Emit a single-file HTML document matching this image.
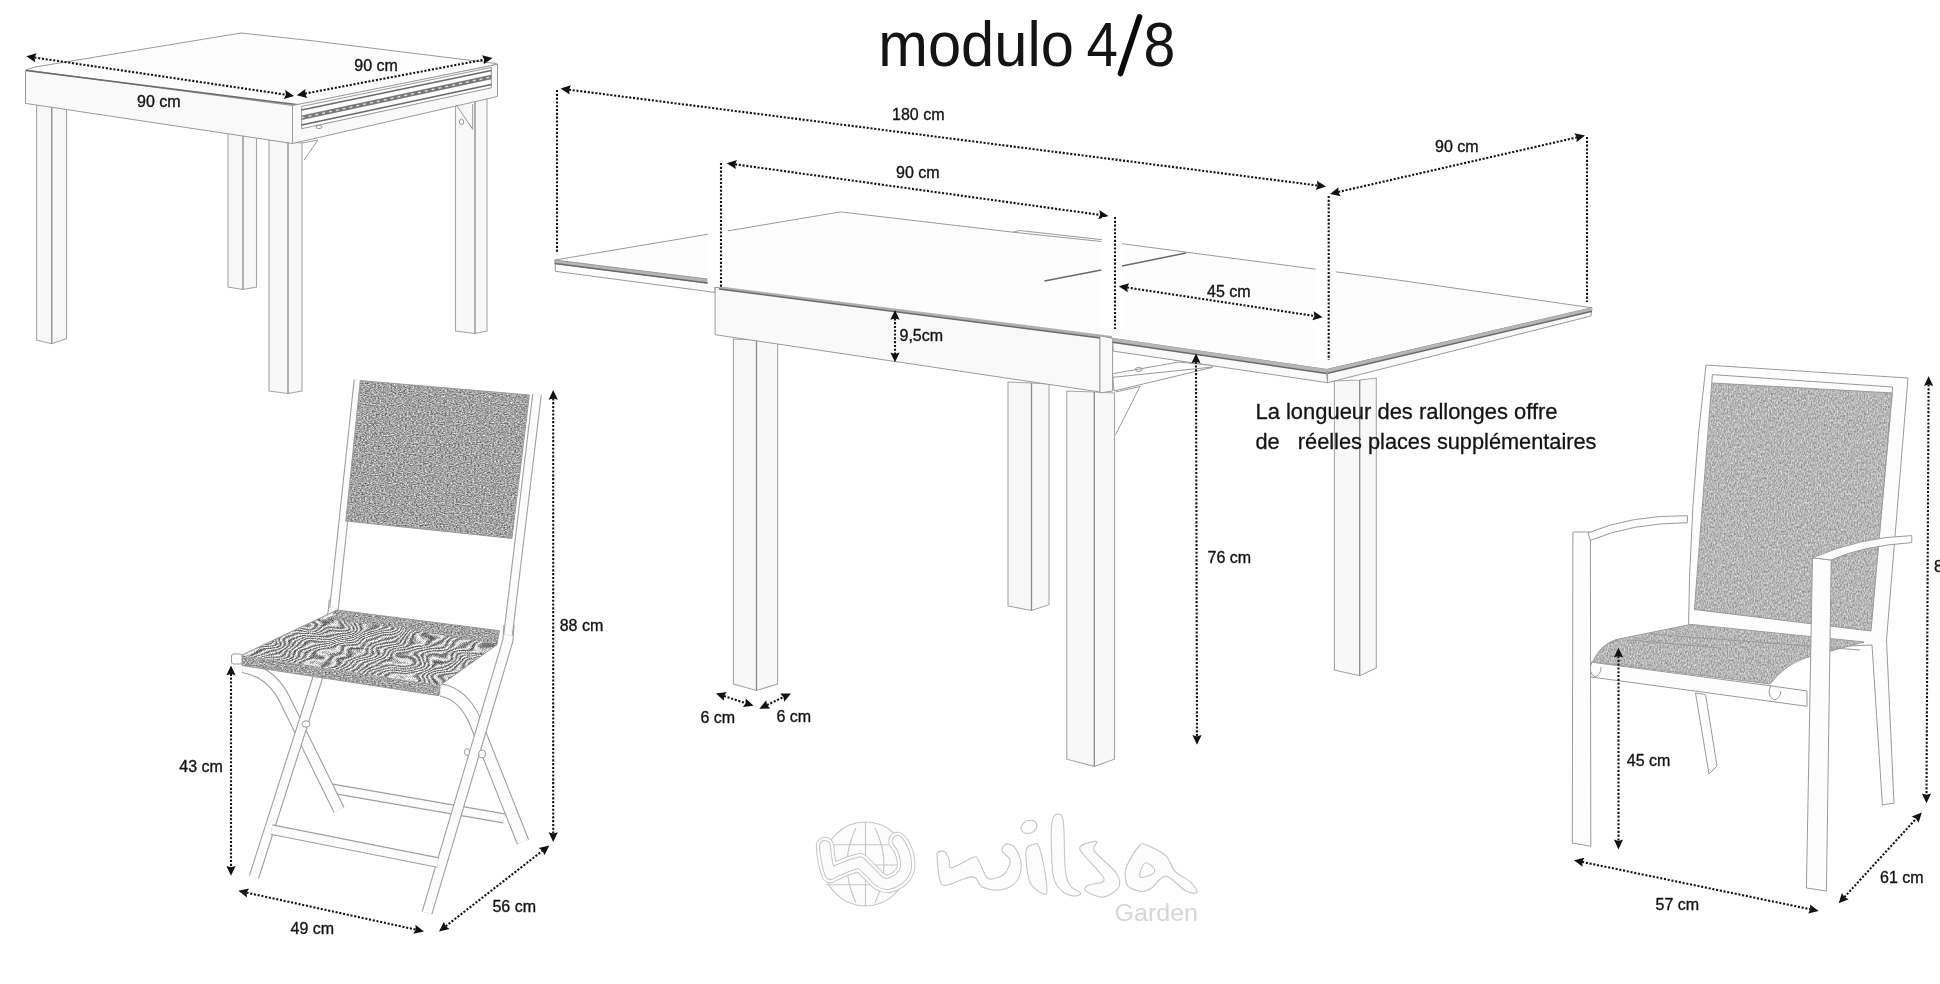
<!DOCTYPE html>
<html><head><meta charset="utf-8">
<style>
html,body{margin:0;padding:0;background:#fff;width:1940px;height:984px;overflow:hidden}
svg{position:absolute;left:0;top:0;filter:grayscale(1) blur(0.45px)}
.ln{fill:none;stroke:#9a9a9a;stroke-width:1}
.ln2{fill:none;stroke:#8a8a8a;stroke-width:1.2}
.lg{fill:#f9f9f9;stroke:#9a9a9a;stroke-width:1}
.lgl{fill:#f8f8f8;stroke:#a6a6a6;stroke-width:1.1}
.lm{fill:none;stroke:#8a8a8a;stroke-width:1.3}
.lw{fill:#fdfdfd;stroke:#9a9a9a;stroke-width:1}
.dk{fill:none;stroke:#6a6a6a;stroke-width:1.5}
.dot{stroke:#151515;stroke-width:2.1;stroke-dasharray:2.1 1.7;fill:none}
text{font-family:"Liberation Sans",sans-serif;fill:#141414}
.lbl{font-size:16px;stroke:#141414;stroke-width:0.35}
</style></head><body>
<svg width="1940" height="984" viewBox="0 0 1940 984">
<defs>
<filter id="nz1" x="0" y="0" width="100%" height="100%" color-interpolation-filters="sRGB">
<feTurbulence type="fractalNoise" baseFrequency="0.55 0.9" numOctaves="2" seed="4"/>
<feColorMatrix type="matrix" values="0.9 0 0 0 0.19  0.9 0 0 0 0.19  0.9 0 0 0 0.19  0 0 0 0 1"/>
</filter>
<filter id="nz2" x="0" y="0" width="100%" height="100%" color-interpolation-filters="sRGB">
<feTurbulence type="fractalNoise" baseFrequency="0.7 0.45" numOctaves="2" seed="9"/>
<feColorMatrix type="matrix" values="0.55 0 0 0 0.44  0.55 0 0 0 0.44  0.55 0 0 0 0.44  0 0 0 0 1"/>
</filter>
<linearGradient id="gx" x1="0" y1="0" x2="1" y2="0.7"><stop offset="0" stop-color="#000"/><stop offset="1" stop-color="#fff"/></linearGradient>
<filter id="moire" x="0" y="0" width="100%" height="100%" color-interpolation-filters="sRGB">
<feTurbulence type="fractalNoise" baseFrequency="0.025 0.05" numOctaves="2" seed="7" result="t"/>
<feColorMatrix in="t" type="matrix" values="1 0 0 0 0  1 0 0 0 0  1 0 0 0 0  0 0 0 0 1" result="tg"/>
<feComposite in="SourceGraphic" in2="tg" operator="arithmetic" k1="0" k2="1" k3="0.22" k4="-0.11" result="c"/>
<feComponentTransfer in="c">
<feFuncR type="table" tableValues="0.35 1 0.35 1 0.35 1 0.35 1 0.35 1 0.35 1 0.35 1 0.35 1 0.35 1 0.35 1 0.35 1 0.35 1 0.35 1 0.35 1 0.35 1 0.35 1 0.35 1 0.35 1 0.35 1 0.35 1 0.35 1 0.35 1 0.35 1 0.35 1 0.35 1 0.35 1 0.35 1 0.35 1 0.35 1 0.35 1 0.35 1 0.35 1 0.35 1 0.35 1 0.35 1 0.35 1 0.35 1 0.35 1 0.35 1 0.35 1 0.35"/><feFuncG type="table" tableValues="0.35 1 0.35 1 0.35 1 0.35 1 0.35 1 0.35 1 0.35 1 0.35 1 0.35 1 0.35 1 0.35 1 0.35 1 0.35 1 0.35 1 0.35 1 0.35 1 0.35 1 0.35 1 0.35 1 0.35 1 0.35 1 0.35 1 0.35 1 0.35 1 0.35 1 0.35 1 0.35 1 0.35 1 0.35 1 0.35 1 0.35 1 0.35 1 0.35 1 0.35 1 0.35 1 0.35 1 0.35 1 0.35 1 0.35 1 0.35 1 0.35"/><feFuncB type="table" tableValues="0.35 1 0.35 1 0.35 1 0.35 1 0.35 1 0.35 1 0.35 1 0.35 1 0.35 1 0.35 1 0.35 1 0.35 1 0.35 1 0.35 1 0.35 1 0.35 1 0.35 1 0.35 1 0.35 1 0.35 1 0.35 1 0.35 1 0.35 1 0.35 1 0.35 1 0.35 1 0.35 1 0.35 1 0.35 1 0.35 1 0.35 1 0.35 1 0.35 1 0.35 1 0.35 1 0.35 1 0.35 1 0.35 1 0.35 1 0.35 1 0.35"/>
<feFuncA type="linear" slope="0" intercept="1"/>
</feComponentTransfer>
</filter>
<clipPath id="cpSeat1b"><polygon points="337,610 499.4,630.7 497,644.7 470,640 400,628 332,620"/></clipPath>
<clipPath id="cpBack1"><polygon points="360.3,380.6 529.4,395 511.9,538.4 345.8,521"/></clipPath>
<clipPath id="cpSeat1"><polygon points="337,610 499.4,630.7 497,644.7 440.2,685.3 242,655"/></clipPath>
<clipPath id="cpSeat1f"><polygon points="242,655 440.2,685.3 439,695.7 242,665.5"/></clipPath>
<clipPath id="cpBack2"><polygon points="1712,383 1893,393 1871,631 1694.4,609.5"/></clipPath>
<clipPath id="cpSeat2"><path d="M1592.7,661.8 Q1600,645 1616,639.6 L1691,624.4 L1864,642 L1805,658 Q1785,665 1770,684 Z"/></clipPath>
</defs>

<g style="fill:#0a0a0a;font-size:63.5px"><text x="878.3" y="65.5" textLength="195.5" lengthAdjust="spacingAndGlyphs">modulo</text><text transform="translate(1086.5,65.5) scale(0.89,1)">4</text><text transform="translate(1143.5,65.5) scale(0.9,1)">8</text></g><line x1="1120.5" y1="73.5" x2="1139.5" y2="16.8" stroke="#0a0a0a" stroke-width="5.6" stroke-linecap="round"/>
<polygon points="36.6,103.0 51.8,104.0 66.5,105.0 66.5,338.6 51.8,343.7 36.6,340.0" class="lgl"/>
<polyline points="51.8,104.0 51.8,343.7" class="lm"/>
<polygon points="228.0,125.0 243.0,126.0 256.5,127.0 256.5,287.0 243.0,289.5 228.0,287.0" class="lgl"/>
<polyline points="243.0,126.0 243.0,289.5" class="lm"/>
<polygon points="455.5,100.0 475.0,100.0 487.0,99.0 487.0,331.0 475.0,333.5 455.5,331.0" class="lgl"/>
<polyline points="475.0,100.0 475.0,333.5" class="lm"/>
<polygon points="269.0,140.0 288.0,142.0 302.0,143.0 302.0,391.0 288.0,393.5 269.0,391.0" class="lgl"/>
<polyline points="288.0,142.0 288.0,393.5" class="lm"/>
<polygon points="26.0,70.0 35.0,67.0 241.0,33.0 310.0,40.5 496.0,63.5 497.5,64.3 300.0,105.0 293.0,105.5" class="lw"/>
<polygon points="25.5,70.2 292.5,105.5 292.5,143.5 25.5,103.4" class="lg"/>
<polyline points="26.0,70.5 300.0,105.0" class="dk"/>
<polygon points="292.5,105.5 497.5,64.3 497.5,96.5 292.5,143.5" class="lg"/>
<polygon points="301.6,106.4 491.3,67.4 491.3,87.8 301.6,128.7" class="lw"/>
<polygon points="301.6,115.6 491.3,74.7 491.3,79.2 301.6,120.1" fill="#777"/>
<line x1="301.6" y1="117.8" x2="491.3" y2="76.9" stroke="#ddd" stroke-width="1.4" stroke-dasharray="3 4"/>
<polyline points="301.6,110.0 491.3,70.5" class="dk"/>
<polyline points="301.6,125.0 491.3,84.5" class="dk"/>
<polyline points="302.0,143.0 318.0,140.0 304.0,160.0" class="ln"/>
<polyline points="456.0,104.5 472.7,129.3 472.7,104.0" class="ln"/>
<ellipse cx="461.5" cy="121.9" rx="2.2" ry="2.6" class="ln"/>
<ellipse cx="319" cy="127" rx="3" ry="1.6" class="ln"/>
<line x1="34.4" y1="57.5" x2="286.0" y2="94.7" class="dot"/>
<path d="M26.2,56.3 L36.6,53.2 L34.5,57.5 L35.2,62.3 Z" fill="#111"/>
<path d="M294.2,95.9 L283.8,99.0 L285.9,94.7 L285.2,89.9 Z" fill="#111"/>
<line x1="304.9" y1="93.6" x2="484.3" y2="59.6" class="dot"/>
<path d="M296.7,95.2 L305.5,88.9 L305.0,93.6 L307.2,97.9 Z" fill="#111"/>
<path d="M492.5,58.0 L483.7,64.3 L484.2,59.6 L482.0,55.3 Z" fill="#111"/>
<text x="137" y="106.5" class="lbl">90 cm</text>
<text x="354.3" y="71" class="lbl">90 cm</text>
<polygon points="1008.0,382.0 1031.5,383.0 1049.0,384.0 1049.0,604.7 1031.5,610.5 1008.0,606.0" class="lgl"/>
<polyline points="1031.5,383.0 1031.5,610.5" class="lm"/>
<polygon points="733.4,339.0 756.5,340.0 777.6,341.0 777.6,684.0 756.5,690.5 733.4,684.0" class="lgl"/>
<polyline points="756.5,340.0 756.5,690.5" class="lm"/>
<polygon points="1066.8,391.0 1094.3,392.0 1114.5,393.0 1114.5,759.2 1094.3,766.4 1066.8,759.2" class="lgl"/>
<polyline points="1094.3,392.0 1094.3,766.4" class="lm"/>
<polygon points="1334.4,381.0 1359.7,380.0 1376.3,378.0 1376.3,668.0 1359.7,675.7 1334.4,670.0" class="lgl"/>
<polyline points="1359.7,380.0 1359.7,675.7" class="lm"/>
<polygon points="554.8,260.0 840.6,211.9 1013.0,232.2 1019.7,230.5 1101.3,239.6 1122.0,243.7 1394.0,279.5 1592.0,307.8 1326.7,369.5 1112.0,338.7 715.0,287.3 707.4,283.1 554.8,263.6" class="lw"/>
<polyline points="1013.0,232.2 1101.3,241.5" class="ln"/>
<polygon points="555.3,263.6 707.4,283.1 715.0,287.3 715.0,292.4 555.3,271.3" class="lw"/>
<polygon points="554.8,260 707.4,279 707.4,283.1 554.8,263.6" fill="#b6b6b6"/>
<polyline points="554.8,263.6 707.4,283.1" class="dk"/>
<polyline points="554.8,260.0 707.4,279.0" class="ln"/>
<polygon points="715.1,287.3 1100.0,335.8 1100.0,392.0 715.1,334.7" class="lg"/>
<polygon points="719,286.2 1112,336 1112,339.5 719,289" fill="#b0b0b0"/>
<polyline points="719.0,289.0 1112.0,339.5" class="dk"/>
<polygon points="1100.0,335.8 1112.6,338.3 1112.6,391.0 1100.0,393.0" class="lg"/>
<polygon points="1112.6,338.3 1326.7,369.5 1327.6,382.7 1113.2,351.1" class="lg"/>
<polygon points="1112.6,338.3 1326.7,369.5 1326.7,373.5 1112.6,342.3" fill="#b6b6b6"/>
<polyline points="1112.6,342.3 1326.7,373.5" class="dk"/>
<polygon points="1326.7,369.5 1592.0,307.8 1591.0,316.0 1327.6,382.7" class="lg"/>
<polygon points="1326.7,369.5 1592,307.8 1592,311.3 1326.7,373.5" fill="#b6b6b6"/>
<polyline points="1326.7,373.5 1592.0,311.3" class="dk"/>
<polyline points="1327.6,371.0 1327.6,382.7" class="ln"/>
<polygon points="1112.6,373.7 1179.0,362.0 1212.0,365.5 1212.0,367.5 1114.0,391.0" class="lw"/>
<polyline points="1113.0,377.3 1213.0,367.0" class="ln"/>
<ellipse cx="1138.8" cy="369.4" rx="3.5" ry="2" class="ln"/>
<polyline points="1115.6,392.0 1140.0,386.5 1115.6,434.6" class="ln"/>
<polyline points="1044.4,280.9 1101.3,270.1" class="dk"/>
<polyline points="1122.0,266.0 1186.0,253.0" class="dk"/>
<line x1="557" y1="90" x2="557" y2="253" class="dot"/>
<line x1="568.9" y1="89.7" x2="1317.7" y2="185.5" class="dot"/>
<path d="M560.6,88.6 L570.9,85.3 L569.0,89.7 L569.7,94.4 Z" fill="#111"/>
<path d="M1326.0,186.6 L1315.7,189.9 L1317.6,185.5 L1316.9,180.8 Z" fill="#111"/>
<text x="892" y="119.5" class="lbl">180 cm</text>
<rect x="708" y="163" width="20" height="124" fill="#fff"/><line x1="721" y1="163" x2="721" y2="287" class="dot"/>
<line x1="735.0" y1="164.3" x2="1100.1" y2="214.9" class="dot"/>
<path d="M726.7,163.2 L737.0,160.0 L735.0,164.4 L735.8,169.1 Z" fill="#111"/>
<path d="M1108.4,216.0 L1098.1,219.2 L1100.1,214.8 L1099.3,210.1 Z" fill="#111"/>
<text x="896" y="178" class="lbl">90 cm</text>
<rect x="1102" y="217" width="20" height="112" fill="#fff"/><line x1="1115" y1="217" x2="1115" y2="329" class="dot"/>
<rect x="1315.7" y="196" width="20" height="164" fill="#fff"/><line x1="1328.7" y1="196" x2="1328.7" y2="360" class="dot"/>
<line x1="1587" y1="137" x2="1587" y2="302" class="dot"/>
<line x1="1338.1" y1="192.0" x2="1576.9" y2="137.4" class="dot"/>
<path d="M1330.0,193.9 L1338.5,187.2 L1338.2,192.0 L1340.6,196.2 Z" fill="#111"/>
<path d="M1585.0,135.5 L1576.5,142.2 L1576.8,137.4 L1574.4,133.2 Z" fill="#111"/>
<text x="1435" y="151.5" class="lbl">90 cm</text>
<line x1="1127.0" y1="287.5" x2="1314.5" y2="316.0" class="dot"/>
<path d="M1118.8,286.3 L1129.2,283.2 L1127.1,287.6 L1127.8,292.3 Z" fill="#111"/>
<path d="M1322.7,317.2 L1312.3,320.3 L1314.4,315.9 L1313.7,311.2 Z" fill="#111"/>
<text x="1207" y="297" class="lbl">45 cm</text>
<line x1="895.0" y1="318.3" x2="895.0" y2="354.0" class="dot"/>
<path d="M895.0,310.0 L899.6,319.8 L895.0,318.4 L890.4,319.8 Z" fill="#111"/>
<path d="M895.0,362.3 L890.4,352.5 L895.0,353.9 L899.6,352.5 Z" fill="#111"/>
<text x="899.5" y="341" class="lbl">9,5cm</text>
<line x1="1196.0" y1="361.7" x2="1197.0" y2="736.5" class="dot"/>
<path d="M1196.0,353.4 L1200.6,363.2 L1196.0,361.8 L1191.4,363.2 Z" fill="#111"/>
<path d="M1197.0,744.8 L1192.4,735.0 L1197.0,736.4 L1201.6,735.0 Z" fill="#111"/>
<text x="1207.5" y="562.5" class="lbl">76 cm</text>
<line x1="723.9" y1="696.0" x2="745.7" y2="703.2" class="dot"/>
<path d="M716.0,693.4 L726.7,692.1 L724.0,696.0 L723.9,700.8 Z" fill="#111"/>
<path d="M753.6,705.8 L742.9,707.1 L745.6,703.2 L745.7,698.4 Z" fill="#111"/>
<line x1="766.9" y1="705.1" x2="783.5" y2="697.0" class="dot"/>
<path d="M759.4,708.7 L766.2,700.3 L767.0,705.0 L770.2,708.6 Z" fill="#111"/>
<path d="M791.0,693.4 L784.2,701.8 L783.4,697.1 L780.2,693.5 Z" fill="#111"/>
<text x="700.5" y="723" class="lbl">6 cm</text>
<text x="776.5" y="721.7" class="lbl">6 cm</text>
<text x="1255.5" y="419.2" style="font-size:22px;stroke:#141414;stroke-width:0.3" textLength="302" lengthAdjust="spacingAndGlyphs">La longueur des rallonges offre</text>
<text x="1255.5" y="448.8" style="font-size:22px;stroke:#141414;stroke-width:0.3" xml:space="preserve" textLength="341" lengthAdjust="spacingAndGlyphs">de   réelles places supplémentaires</text>
<path d="M332,788.6 L504,818.4" fill="none" stroke="#a0a0a0" stroke-width="10.2" stroke-linejoin="round"/><path d="M332,788.6 L504,818.4" fill="none" stroke="#fcfcfc" stroke-width="8" stroke-linejoin="round"/>
<path d="M243,667 Q272,672 286,702 L339,810" fill="none" stroke="#a0a0a0" stroke-width="12.2" stroke-linejoin="round"/><path d="M243,667 Q272,672 286,702 L339,810" fill="none" stroke="#fcfcfc" stroke-width="10" stroke-linejoin="round"/>
<path d="M441,690 Q463,694 475,721 L523,842" fill="none" stroke="#a0a0a0" stroke-width="13.2" stroke-linejoin="round"/><path d="M441,690 Q463,694 475,721 L523,842" fill="none" stroke="#fcfcfc" stroke-width="11" stroke-linejoin="round"/>
<path d="M334,600 L333,612 L317,680 L254,877" fill="none" stroke="#a0a0a0" stroke-width="10.7" stroke-linejoin="round"/><path d="M334,600 L333,612 L317,680 L254,877" fill="none" stroke="#fcfcfc" stroke-width="8.5" stroke-linejoin="round"/>
<path d="M509,625 L508,640 L427,913" fill="none" stroke="#a0a0a0" stroke-width="11.2" stroke-linejoin="round"/><path d="M509,625 L508,640 L427,913" fill="none" stroke="#fcfcfc" stroke-width="9" stroke-linejoin="round"/>
<ellipse cx="306" cy="724" rx="4" ry="3.2" class="lw"/>
<ellipse cx="482" cy="754" rx="3.5" ry="4" class="lw"/>
<ellipse cx="467" cy="752" rx="2.5" ry="3.5" class="lw"/>
<path d="M271.5,829.6 L438,862.6" fill="none" stroke="#a0a0a0" stroke-width="10.7" stroke-linejoin="round"/><path d="M271.5,829.6 L438,862.6" fill="none" stroke="#fcfcfc" stroke-width="8.5" stroke-linejoin="round"/>
<path d="M358.5,380 L334,608" fill="none" stroke="#a0a0a0" stroke-width="9.7" stroke-linejoin="round"/><path d="M358.5,380 L334,608" fill="none" stroke="#fcfcfc" stroke-width="7.5" stroke-linejoin="round"/>
<path d="M537,394.5 L508,635" fill="none" stroke="#a0a0a0" stroke-width="9.7" stroke-linejoin="round"/><path d="M537,394.5 L508,635" fill="none" stroke="#fcfcfc" stroke-width="7.5" stroke-linejoin="round"/>
<g clip-path="url(#cpBack1)"><rect x="340" y="375" width="195" height="170" filter="url(#nz1)"/></g>
<polygon points="360.3,380.6 529.4,395.0 511.9,538.4 345.8,521.0" class="ln"/>
<g clip-path="url(#cpSeat1)"><rect x="240" y="605" width="262" height="92" fill="url(#gx)" filter="url(#moire)"/></g><g clip-path="url(#cpSeat1b)"><rect x="325" y="605" width="178" height="45" filter="url(#nz1)"/></g>
<g clip-path="url(#cpSeat1f)"><rect x="240" y="650" width="202" height="48" filter="url(#nz1)"/></g>
<polygon points="337.0,610.0 499.4,630.7 497.0,644.7 440.2,685.3 439.0,695.7 242.0,665.5 242.0,655.0" class="ln"/>
<rect x="231.5" y="654" width="10.5" height="10" rx="2" class="lw"/>
<line x1="553.2" y1="398.3" x2="553.2" y2="833.7" class="dot"/>
<path d="M553.2,390.0 L557.8,399.8 L553.2,398.4 L548.6,399.8 Z" fill="#111"/>
<path d="M553.2,842.0 L548.6,832.2 L553.2,833.6 L557.8,832.2 Z" fill="#111"/>
<text x="559.7" y="630.7" class="lbl">88 cm</text>
<line x1="231.0" y1="673.8" x2="231.0" y2="867.4" class="dot"/>
<path d="M231.0,665.5 L235.6,675.3 L231.0,673.9 L226.4,675.3 Z" fill="#111"/>
<path d="M231.0,875.7 L226.4,865.9 L231.0,867.3 L235.6,865.9 Z" fill="#111"/>
<text x="179.3" y="771.6" class="lbl">43 cm</text>
<line x1="246.5" y1="892.6" x2="415.9" y2="929.6" class="dot"/>
<path d="M238.4,890.8 L249.0,888.4 L246.6,892.6 L247.0,897.4 Z" fill="#111"/>
<path d="M424.0,931.4 L413.4,933.8 L415.8,929.6 L415.4,924.8 Z" fill="#111"/>
<text x="290.6" y="933.7" class="lbl">49 cm</text>
<line x1="445.6" y1="926.3" x2="542.7" y2="850.6" class="dot"/>
<path d="M439.0,931.4 L443.9,921.7 L445.6,926.2 L449.6,929.0 Z" fill="#111"/>
<path d="M549.3,845.5 L544.4,855.2 L542.7,850.7 L538.7,847.9 Z" fill="#111"/>
<text x="492.4" y="912.1" class="lbl">56 cm</text>
<polygon points="1695.5,693.0 1705.6,694.7 1717.0,766.0 1709.0,774.0" class="lw"/>
<path d="M1706,365 L1908,378 L1886.5,640 L1894,803 L1882.4,805 L1872,645 L1688,653 Q1689,500 1706,365 Z" class="lw"/>
<g clip-path="url(#cpBack2)"><rect x="1690" y="370" width="205" height="265" filter="url(#nz2)"/></g>
<polygon points="1712.4,374.6 1892.6,387.0 1871.0,631.0 1694.4,609.5" class="ln"/>
<polyline points="1712.0,383.0 1893.0,393.0" class="ln"/>
<g clip-path="url(#cpSeat2)"><rect x="1590" y="620" width="280" height="70" filter="url(#nz2)"/></g>
<path d="M1592.7,661.8 Q1600,645 1616,639.6 L1691,624.4 L1864,642 L1805,658 Q1785,665 1770,684 Z" class="ln"/>
<polyline points="1650.0,634.0 1860.0,650.0" class="ln"/>
<polyline points="1630.0,640.0 1720.0,648.0" class="ln"/>
<polygon points="1590.0,662.0 1772.0,686.0 1807.0,691.0 1807.0,706.3 1589.0,676.7" class="lw"/>
<path d="M1592,662 q-5,10 3,15 q6,-2 6,-10" class="ln"/>
<path d="M1771,685 q-5,10 3,15 q6,-1 7,-9" class="ln"/>
<polygon points="1572.9,532.0 1590.4,532.0 1590.8,846.3 1572.3,843.0" class="lw"/>
<polygon points="1812.5,557.8 1831.2,560.0 1826.4,891.0 1806.4,888.0" class="lw"/>
<path d="M1588,533 Q1630,515 1687.4,515.7 L1687.4,522.7 Q1632,523 1590.4,540.3 Z" class="lw"/>
<path d="M1812.5,557.8 Q1860,537 1911.8,535.6 L1911.8,542.6 Q1862,546 1831,560 Z" class="lw"/>
<line x1="1928.6" y1="384.5" x2="1926.5" y2="794.9" class="dot"/>
<path d="M1928.6,376.2 L1933.2,386.0 L1928.6,384.6 L1924.0,386.0 Z" fill="#111"/>
<path d="M1926.5,803.2 L1921.9,793.4 L1926.5,794.8 L1931.1,793.4 Z" fill="#111"/>
<text x="1934" y="571.7" class="lbl">88 cm</text>
<line x1="1618.5" y1="656.0" x2="1618.5" y2="841.1" class="dot"/>
<path d="M1618.5,647.7 L1623.1,657.5 L1618.5,656.1 L1613.9,657.5 Z" fill="#111"/>
<path d="M1618.5,849.4 L1613.9,839.6 L1618.5,841.0 L1623.1,839.6 Z" fill="#111"/>
<text x="1626.8" y="766.3" class="lbl">45 cm</text>
<line x1="1582.1" y1="861.9" x2="1810.5" y2="909.3" class="dot"/>
<path d="M1573.9,860.2 L1584.4,857.7 L1582.2,861.9 L1582.6,866.7 Z" fill="#111"/>
<path d="M1818.7,911.0 L1808.2,913.5 L1810.4,909.3 L1810.0,904.5 Z" fill="#111"/>
<text x="1655.5" y="909.5" class="lbl">57 cm</text>
<line x1="1844.3" y1="897.2" x2="1916.2" y2="818.6" class="dot"/>
<path d="M1838.7,903.3 L1841.9,893.0 L1844.4,897.1 L1848.7,899.2 Z" fill="#111"/>
<path d="M1921.8,812.5 L1918.6,822.8 L1916.1,818.7 L1911.8,816.6 Z" fill="#111"/>
<text x="1880" y="883.3" class="lbl">61 cm</text>
<g fill="none" stroke="#c6c6c6" stroke-width="1.1">
<circle cx="865.5" cy="864" r="42" fill="#fcfcfc"/>
<path d="M865.5,822 L865.5,906 M826,844.7 L905,844.7 M826,884.7 L905,884.7 M866,865 L906,865"/>
<path d="M856,828 Q838,864 856,903 M875,828 Q893,864 875,903"/>
<path d="M825,846 Q826,862 830.3,874 Q845,866 860,862.3 Q868,870 874,876 Q880,884 888,884 Q903,880 906,868 Q907,852 897.5,841" stroke="#c6c6c6" stroke-width="18.5" stroke-linejoin="round" stroke-linecap="round"/>
<path d="M825,846 Q826,862 830.3,874 Q845,866 860,862.3 Q868,870 874,876 Q880,884 888,884 Q903,880 906,868 Q907,852 897.5,841" stroke="#fff" stroke-width="16.5" stroke-linejoin="round" stroke-linecap="round"/>
<path d="M825,846 Q826,862 830.3,874 Q845,866 860,862.3 Q868,870 874,876 Q880,884 888,884 Q903,880 906,868 Q907,852 897.5,841" stroke="#c6c6c6" stroke-width="12" stroke-linejoin="round" stroke-linecap="round"/>
<path d="M825,846 Q826,862 830.3,874 Q845,866 860,862.3 Q868,870 874,876 Q880,884 888,884 Q903,880 906,868 Q907,852 897.5,841" stroke="#fcfcfc" stroke-width="10" stroke-linejoin="round" stroke-linecap="round"/>
</g>
<g fill="#fcfcfc" stroke="#c6c6c6" stroke-width="1.1">
<path d="M937.7,852.5 C938.9,851.4 942.6,850.2 944.5,851.5 C946.4,852.8 948.2,857.5 949.3,860.2 C950.4,862.9 947.2,868.4 951.2,867.9 C955.2,867.4 969.0,858.6 973.5,857.3 C978.0,856.0 976.0,856.8 978.3,860.2 C980.5,863.6 984.1,874.6 987.0,877.6 C989.9,880.6 992.7,878.8 995.7,878.0 C998.8,877.2 1002.9,875.8 1005.3,872.8 C1007.7,869.8 1010.6,863.8 1010.1,860.2 C1009.6,856.7 1003.2,854.1 1002.4,851.5 C1001.6,848.9 1003.4,845.1 1005.3,844.3 C1007.2,843.5 1011.4,843.9 1014.0,846.7 C1016.6,849.5 1020.0,856.1 1020.8,861.2 C1021.6,866.4 1020.7,873.3 1018.8,877.6 C1016.9,881.9 1013.1,885.1 1009.2,887.2 C1005.4,889.3 1000.4,890.2 995.7,890.1 C991.0,890.0 985.1,888.5 981.2,886.3 C977.3,884.0 978.3,876.8 972.5,876.6 C966.7,876.4 951.9,884.8 946.4,885.3 C940.9,885.8 941.2,884.0 939.7,879.5 C938.2,875.0 937.5,862.8 937.2,858.3 C936.9,853.8 936.5,853.6 937.7,852.5 Z"/>
<ellipse cx="1029" cy="826.9" rx="8.2" ry="6.3" transform="rotate(-22 1029 826.9)"/>
<path d="M1026.6,848.6 C1027.7,846.4 1030.3,845.1 1032.4,844.8 C1034.5,844.5 1036.8,841.2 1039.1,846.7 C1041.3,852.2 1044.8,869.7 1045.9,877.6 C1047.0,885.5 1048.0,892.4 1045.9,894.0 C1043.8,895.6 1036.2,889.9 1033.3,887.2 C1030.4,884.5 1029.7,882.4 1028.5,877.6 C1027.3,872.8 1026.3,863.1 1026.0,858.3 C1025.7,853.5 1025.5,850.9 1026.6,848.6 Z"/>
<path d="M1052.6,819.7 C1053.6,815.6 1055.7,814.0 1057.5,814.3 C1059.3,814.6 1062.0,812.7 1063.3,821.6 C1064.6,830.5 1064.1,857.3 1065.2,867.9 C1066.3,878.5 1067.4,881.1 1070.0,885.3 C1072.6,889.5 1079.8,891.2 1080.6,893.0 C1081.4,894.8 1077.7,896.2 1074.8,896.0 C1071.9,895.8 1066.8,895.1 1063.3,892.0 C1059.8,888.9 1055.6,886.4 1053.6,877.6 C1051.6,868.8 1051.4,848.6 1051.2,839.0 C1051.0,829.4 1051.5,823.8 1052.6,819.7 Z"/>
<path d="M1080.6,846.0 C1082.8,843.8 1094.5,840.7 1096.8,841.5 C1099.1,842.3 1091.3,845.8 1094.4,850.9 C1097.5,856.0 1111.3,866.3 1115.5,872.0 C1119.7,877.7 1120.1,881.5 1119.6,885.0 C1119.1,888.5 1115.4,891.2 1112.3,893.2 C1109.2,895.2 1105.4,897.6 1100.9,897.2 C1096.4,896.8 1087.4,892.7 1085.4,890.7 C1083.4,888.7 1085.6,886.9 1088.7,885.0 C1091.8,883.1 1104.9,884.3 1104.1,879.3 C1103.3,874.3 1087.7,860.5 1083.8,855.0 C1079.9,849.5 1078.4,848.2 1080.6,846.0 Z"/>
<path d="M1126.9,865.5 C1129.2,860.4 1135.7,849.4 1139.1,846.0 C1142.5,842.6 1142.9,843.7 1147.2,845.2 C1151.5,846.7 1161.2,851.9 1165.1,855.0 C1169.0,858.1 1169.0,861.1 1170.8,863.9 C1172.6,866.7 1172.3,868.9 1175.7,872.0 C1179.1,875.1 1187.6,879.2 1191.1,882.6 C1194.6,886.0 1197.8,891.0 1196.8,892.4 C1195.8,893.8 1190.6,893.4 1185.4,890.7 C1180.2,888.0 1171.6,876.5 1165.9,876.1 C1160.2,875.7 1155.4,885.7 1151.3,888.3 C1147.2,890.9 1145.3,891.8 1141.5,891.5 C1137.7,891.2 1131.2,889.1 1128.5,886.7 C1125.8,884.3 1125.6,880.4 1125.3,876.9 C1125.0,873.4 1124.6,870.6 1126.9,865.5 Z M1139.9,876.9 C1138.6,875.1 1142.5,864.6 1144.8,863.1 C1147.1,861.6 1152.3,866.2 1153.7,868.0 C1155.1,869.8 1155.2,872.2 1152.9,873.7 C1150.6,875.2 1141.2,878.7 1139.9,876.9 Z" fill-rule="evenodd"/>
</g>
<text x="1114.5" y="921.2" style="font-size:23.5px;fill:#d6d6d6" textLength="83.5" lengthAdjust="spacingAndGlyphs">Garden</text>
</svg></body></html>
